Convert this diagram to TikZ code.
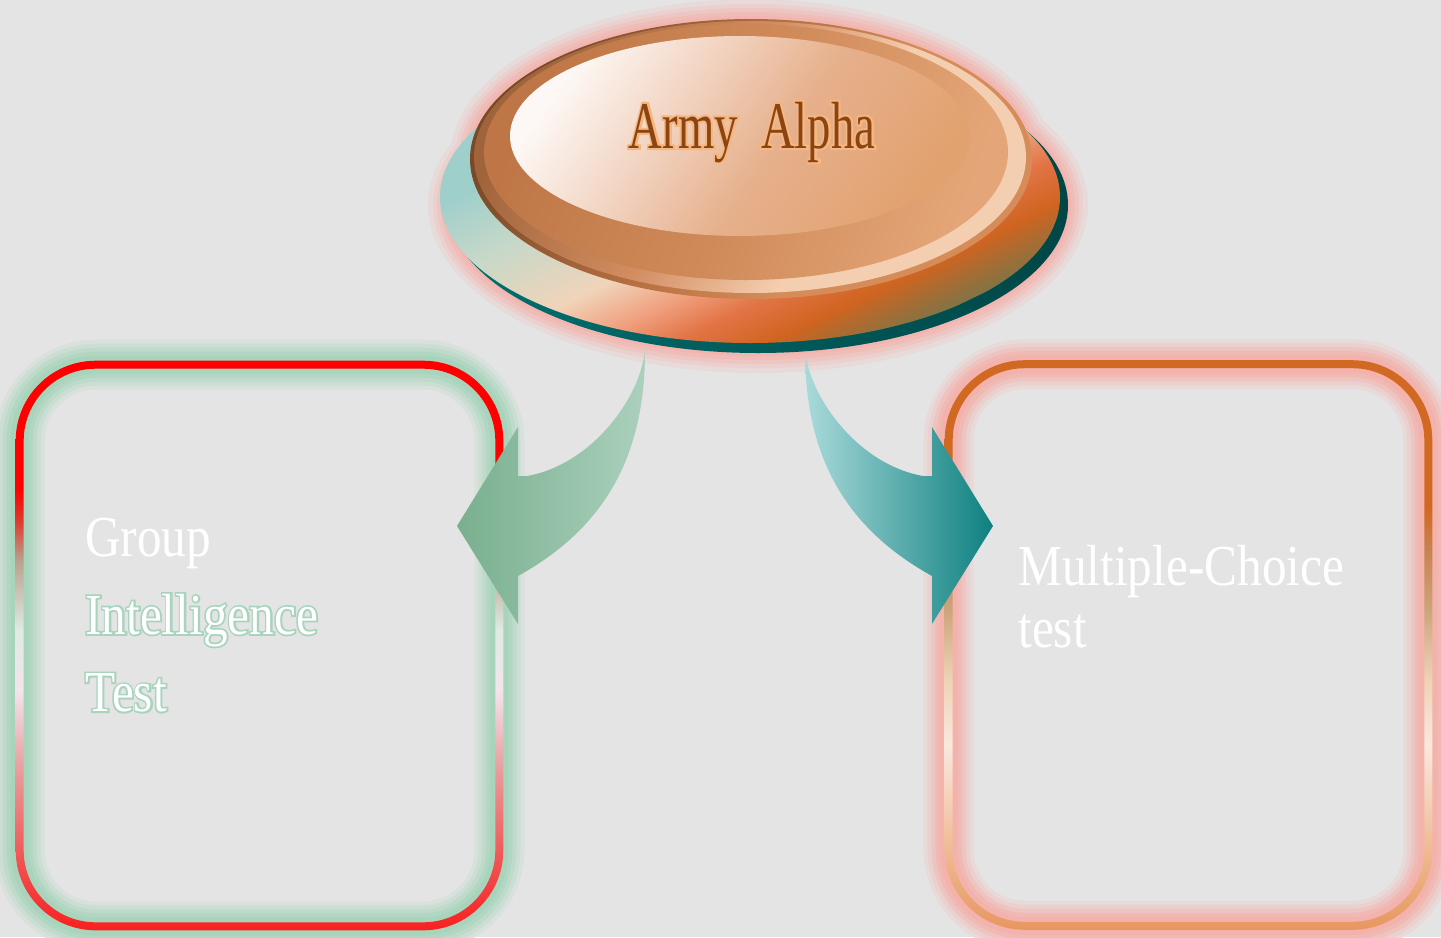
\documentclass[tikz,border=0pt]{standalone}
\usepackage{fontspec}
\usetikzlibrary{positioning, calc}
\newfontfamily\titlefont[FakeStretch=0.7]{Liberation Serif}
\newfontfamily\titlehalo[FakeStretch=0.7, FakeBold=6]{Liberation Serif}
\newfontfamily\labelfont[FakeStretch=0.85]{Liberation Serif}
\newfontfamily\labelhalo[FakeStretch=0.85, FakeBold=6]{Liberation Serif}

\definecolor{bgcol}{RGB}{228,228,228}
\definecolor{glowpink}{RGB}{243,178,172}
\definecolor{glowgreen}{RGB}{168,212,188}
\definecolor{alphabrown}{RGB}{139,69,19}
\definecolor{alphaglow}{RGB}{246,182,128}
\definecolor{tealA}{RGB}{0,112,112}
\definecolor{tealB}{RGB}{0,70,70}
% base disc
\definecolor{baseA}{RGB}{158,207,203}
\definecolor{baseB}{RGB}{200,216,200}
\definecolor{baseC}{RGB}{240,212,186}
\definecolor{baseD}{RGB}{240,160,126}
\definecolor{baseE}{RGB}{226,116,70}
\definecolor{baseF}{RGB}{208,100,32}
\definecolor{baseG}{RGB}{128,116,70}
% rim and face
\definecolor{rimoA}{RGB}{122,74,40}
\definecolor{rimoB}{RGB}{180,110,64}
\definecolor{rimoC}{RGB}{214,140,88}
\definecolor{rimrA}{RGB}{160,100,60}
\definecolor{rimrB}{RGB}{210,140,96}
\definecolor{rimrC}{RGB}{244,206,176}
\definecolor{rimmA}{RGB}{190,118,70}
\definecolor{rimmB}{RGB}{208,138,90}
\definecolor{rimmC}{RGB}{228,166,120}
\definecolor{faceA}{RGB}{253,248,245}
\definecolor{faceB}{RGB}{242,212,194}
\definecolor{faceC}{RGB}{230,176,140}
\definecolor{faceD}{RGB}{226,162,112}
% frame rims
\definecolor{redA}{RGB}{248,32,32}
\definecolor{redB}{RGB}{240,84,84}
\definecolor{redC}{RGB}{232,165,165}
\definecolor{redD}{RGB}{244,228,236}
\definecolor{redE}{RGB}{222,234,226}
\definecolor{redF}{RGB}{185,160,140}
\definecolor{redG}{RGB}{225,55,45}
\definecolor{redH}{RGB}{255,0,0}
\definecolor{orA}{RGB}{232,150,96}
\definecolor{orB}{RGB}{238,182,140}
\definecolor{orC}{RGB}{250,232,222}
\definecolor{orD}{RGB}{238,210,180}
\definecolor{orE}{RGB}{205,165,125}
\definecolor{orF}{RGB}{200,130,80}
\definecolor{orG}{RGB}{210,105,35}
% arrows
\definecolor{leftarrA}{RGB}{121,175,143}
\definecolor{leftarrB}{RGB}{171,208,188}
\definecolor{rightarrA}{RGB}{170,218,218}
\definecolor{rightarrM}{RGB}{130,190,190}
\definecolor{rightarrB}{RGB}{14,128,128}

\pgfdeclarehorizontalshading{basedisc}{100bp}{color(0bp)=(baseA); color(32.75bp)=(baseA);
    color(42bp)=(baseB); color(52bp)=(baseC); color(58bp)=(baseD); color(63bp)=(baseE);
    color(68.5bp)=(baseF); color(75bp)=(baseG); color(100bp)=(baseG)}
\pgfdeclarehorizontalshading{rimouter}{100bp}{color(0bp)=(rimoA); color(25bp)=(rimoA);
    color(45bp)=(rimoB); color(60bp)=(rimoC); color(100bp)=(rimoC)}
\pgfdeclarehorizontalshading{rimring}{100bp}{color(0bp)=(rimrA); color(25bp)=(rimrA);
    color(45bp)=(rimrB); color(60bp)=(rimrC); color(100bp)=(rimrC)}
\pgfdeclarehorizontalshading{rimmid}{100bp}{color(0bp)=(rimmA); color(25bp)=(rimmA);
    color(50bp)=(rimmB); color(75bp)=(rimmC); color(100bp)=(rimmC)}
\pgfdeclarehorizontalshading{faceshade}{100bp}{color(0bp)=(faceA); color(25bp)=(faceA);
    color(40bp)=(faceB); color(55bp)=(faceC); color(75bp)=(faceD); color(100bp)=(faceD)}
\pgfdeclareverticalshading{redrim}{100bp}{color(0bp)=(redA); color(25bp)=(redA);
    color(31.2bp)=(redB); color(39.9bp)=(redC); color(46.1bp)=(redD); color(51.4bp)=(redE);
    color(57.5bp)=(redF); color(61bp)=(redG); color(63.7bp)=(redH); color(100bp)=(redH)}
\pgfdeclareverticalshading{orangerim}{100bp}{color(0bp)=(orA); color(25bp)=(orA);
    color(31.2bp)=(orB); color(41.2bp)=(orC); color(47bp)=(orD); color(53bp)=(orE);
    color(58.5bp)=(orF); color(62bp)=(orG); color(100bp)=(orG)}

\tikzset{
    boxframe/.style={minimum width=9.74cm, minimum height=11.38cm, inner sep=0pt}, % size of a frame
    glowline/.style={line width=#1, rounded corners=1.52cm},
    labeltext/.style={anchor=north west, align=left, inner sep=0pt, text=white,
        font=\labelfont\fontsize{33}{44}\selectfont},
    titletext/.style={anchor=base, inner sep=0pt, text=alphabrown,
        font=\titlefont\fontsize{38}{40}\selectfont},
}

\begin{document}
\begin{tikzpicture}[x=0.02cm, y=-0.02cm]
    % background
    \fill[bgcol] (0,0) rectangle (1441,937);
    \useasboundingbox (0,0) rectangle (1441,937);

    % the two frames
    \node[boxframe] (gitbox) at (259.5,645.5) {};
    \node[boxframe] (mcbox) at (1188.5,645) {};

    \foreach \g/\w in {20/1.0cm, 40/0.84cm, 65/0.68cm, 85/0.52cm, 100/0.36cm}{
        \draw[glowgreen!\g!bgcol, glowline=\w] ($(gitbox.south west)+(4,-4)$) rectangle ($(gitbox.north east)+(-4,4)$);
        \draw[glowpink!\g!bgcol, glowline=\w] ($(mcbox.south west)+(4,-4)$) rectangle ($(mcbox.north east)+(-4,4)$);
    }
    \shade[shading=redrim, even odd rule, rounded corners=1.6cm]
        (gitbox.south west) rectangle (gitbox.north east)
        [rounded corners=1.44cm] ($(gitbox.south west)+(8,-8)$) rectangle ($(gitbox.north east)+(-8,8)$);
    \shade[shading=orangerim, even odd rule, rounded corners=1.6cm]
        (mcbox.south west) rectangle (mcbox.north east)
        [rounded corners=1.44cm] ($(mcbox.south west)+(8,-8)$) rectangle ($(mcbox.north east)+(-8,8)$);

    % the button
    \foreach \g/\d in {20/20, 40/15, 60/11, 80/7, 95/3}{
        \fill[glowpink!\g!bgcol] (751,159) ellipse [x radius=281+\d, y radius=140+\d];
        \fill[glowpink!\g!bgcol] (758,205) ellipse [x radius=310+\d, y radius=148+\d];
    }
    \shade[left color=tealA, right color=tealB] (758,205) ellipse [x radius=310, y radius=148];
    \begin{scope}
        \clip (750,197) ellipse [x radius=310, y radius=146];
        \shade[shading=basedisc, transform canvas={rotate around={-64.2:(750,197)}}]
            (562,-200) rectangle (938,600);
    \end{scope}
    \shade[shading=rimouter, shading angle=-30] (751,159) ellipse [x radius=281, y radius=140];
    \shade[shading=rimring, shading angle=-30] (750,157) ellipse [x radius=276, y radius=136];
    \shade[shading=rimmid, shading angle=-20] (746,152) ellipse [x radius=262, y radius=128];
    \shade[shading=faceshade, shading angle=-35] (740,136) ellipse [x radius=230, y radius=100];

    % arrows
    \shade[left color=leftarrA, right color=leftarrB]
        (645,350) .. controls (645,450) and (610,525) .. (518,576) -- (518,624) -- (457,526)
        -- (518,427) -- (518,476) -- (527,476) .. controls (590,465) and (640,400) .. (645,350) -- cycle;
    \shade[left color=rightarrA, middle color=rightarrM, right color=rightarrB]
        (805,350) .. controls (805,450) and (840,525) .. (932,576) -- (932,624) -- (993,526)
        -- (932,427) -- (932,476) -- (923,476) .. controls (860,465) and (810,400) .. (805,350) -- cycle;

    % texts
    \node[titletext, text=alphaglow, font=\titlehalo\fontsize{38}{40}\selectfont]
        (alphahalo) at (752,148) {Army\ \ Alpha};
    \node[titletext] (alpha) at (752,148) {Army\ \ Alpha};
    \node[labeltext, text=glowgreen, font=\labelhalo\fontsize{33}{44}\selectfont] (githalo) at (85,518)
        {\phantom{Group}\\Intelligence\\Test};
    \node[labeltext] (gitlabel) at (85,518) {Group\\Intelligence\\Test};
    \node[labeltext, font=\labelfont\fontsize{33}{35}\selectfont] (mclabel) at (1018,545)
        {Multiple-Choice\\test};
\end{tikzpicture}
\end{document}
